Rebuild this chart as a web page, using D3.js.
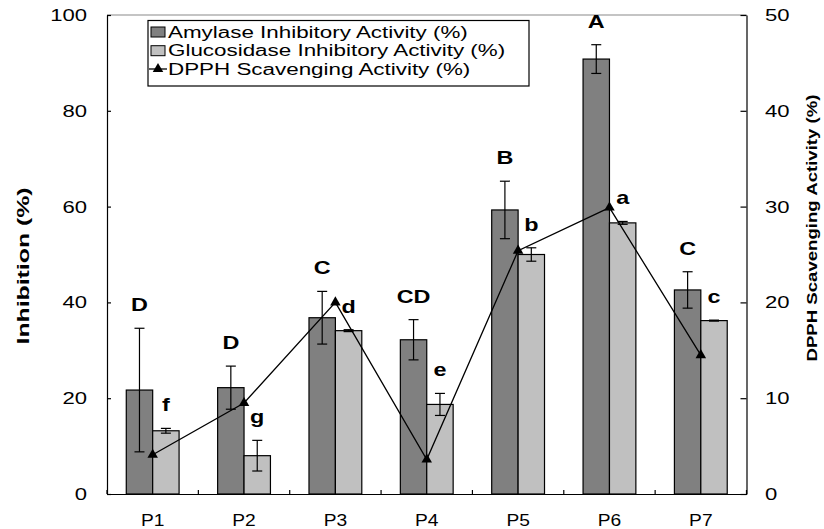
<!DOCTYPE html>
<html>
<head>
<meta charset="utf-8">
<style>
  body { margin: 0; background: #fff; }
  text { font-family: "Liberation Sans", Arial, sans-serif; fill: #000; }
</style>
</head>
<body>
<script src="https://cdnjs.cloudflare.com/ajax/libs/d3/7.8.5/d3.min.js"></script>
<svg id="chart" width="824" height="529"></svg>
<script>

  const categories = ["P1", "P2", "P3", "P4", "P5", "P6", "P7"];
  const amylase = [21.7, 22.2, 36.8, 32.2, 59.3, 90.8, 42.6];
  const amylaseErr = [12.9, 4.5, 5.5, 4.2, 6.0, 3.0, 3.8];
  const glucosidase = [13.2, 8.0, 34.1, 18.7, 50.0, 56.6, 36.2];
  const glucosidaseErr = [0.5, 3.2, 0.2, 2.3, 1.4, 0.3, 0.1];
  const dpph = [4.1, 9.5, 20.0, 3.6, 25.4, 29.9, 14.5];
  const amylaseLetters = ["D", "D", "C", "CD", "B", "A", "C"];
  const glucosidaseLetters = ["f", "g", "d", "e", "b", "a", "c"];
  const leftTicks = [0, 20, 40, 60, 80, 100];
  const rightTicks = [0, 10, 20, 30, 40, 50];
  const seriesNames = ["Amylase Inhibitory Activity (%)",
                       "Glucosidase Inhibitory Activity (%)",
                       "DPPH Scavenging Activity (%)"];

  const dark = "#808080", light = "#c0c0c0";

  const svg = d3.select("#chart");

  const x = d3.scaleBand().domain(categories).range([107, 746.5]);
  const xs = d3.scaleBand().domain(["amy", "glu"])
    .range([0, x.bandwidth()])
    .paddingOuter(0.73);
  const yL = d3.scaleLinear().domain([0, 100]).range([494, 15]);
  const yR = d3.scaleLinear().domain([0, 50]).range([494, 15]);

  // gray frame line at the top
  svg.append("line")
    .attr("x1", x.range()[0]).attr("x2", x.range()[1])
    .attr("y1", yL(100)).attr("y2", yL(100))
    .attr("stroke", "#8a8a8a").attr("stroke-width", 1.2);

  const rows = [];
  categories.forEach((c, i) => {
    rows.push({ c, key: "amy", v: amylase[i], e: amylaseErr[i], letter: amylaseLetters[i], fill: dark });
    rows.push({ c, key: "glu", v: glucosidase[i], e: glucosidaseErr[i], letter: glucosidaseLetters[i], fill: light });
  });
  const cx = d => x(d.c) + xs(d.key) + xs.bandwidth() / 2;

  svg.append("g")
    .selectAll("rect")
    .data(rows)
    .enter()
    .append("rect")
    .attr("x", d => x(d.c) + xs(d.key))
    .attr("width", xs.bandwidth())
    .attr("y", d => yL(d.v))
    .attr("height", d => yL(0) - yL(d.v))
    .attr("fill", d => d.fill)
    .attr("stroke", "#000")
    .attr("stroke-width", 1.2);

  // error bars
  const err = svg.append("g").attr("stroke", "#000").attr("stroke-width", 1.2);
  err.selectAll("line.v").data(rows).enter().append("line")
    .attr("x1", cx).attr("x2", cx)
    .attr("y1", d => yL(d.v - d.e)).attr("y2", d => yL(d.v + d.e));
  err.selectAll("line.t").data(rows).enter().append("line")
    .attr("x1", d => cx(d) - 5).attr("x2", d => cx(d) + 5)
    .attr("y1", d => yL(d.v + d.e)).attr("y2", d => yL(d.v + d.e));
  err.selectAll("line.b").data(rows).enter().append("line")
    .attr("x1", d => cx(d) - 5).attr("x2", d => cx(d) + 5)
    .attr("y1", d => yL(d.v - d.e)).attr("y2", d => yL(d.v - d.e));

  // significance letters
  svg.append("g")
    .selectAll("text")
    .data(rows)
    .enter()
    .append("text")
    .attr("text-anchor", "middle")
    .attr("font-size", 18)
    .attr("font-weight", "bold")
    .attr("transform", d => `translate(${cx(d)},${yL(d.v + d.e) - 17}) scale(1.3,1)`)
    .text(d => d.letter);

  // DPPH line
  const line = d3.line()
    .x((d, i) => x(categories[i]) + x.bandwidth() / 2)
    .y(d => yR(d));

  svg.append("path")
    .datum(dpph)
    .attr("d", line)
    .attr("fill", "none")
    .attr("stroke", "#000")
    .attr("stroke-width", 1.3);

  const tri = d3.symbol().type(d3.symbolTriangle).size(48);
  svg.append("g")
    .selectAll("path")
    .data(dpph)
    .enter()
    .append("path")
    .attr("d", tri)
    .attr("transform", (d, i) => `translate(${x(categories[i]) + x.bandwidth() / 2},${yR(d)})`)
    .attr("fill", "#000");

  // left axis
  const axL = svg.append("g")
    .attr("transform", "translate(107,0)")
    .call(d3.axisLeft(yL).tickValues(leftTicks).tickSizeInner(-4).tickSizeOuter(0));
  axL.selectAll("text")
    .attr("x", 0)
    .attr("transform", "translate(-20,0) scale(1.3,1)");

  // right axis
  const axR = svg.append("g")
    .attr("transform", "translate(746.5,0)")
    .call(d3.axisRight(yR).tickValues(rightTicks).tickSizeInner(-6).tickSizeOuter(0));
  axR.selectAll("text")
    .attr("x", 0)
    .attr("transform", "translate(18.5,0) scale(1.3,1)");

  // bottom axis
  const axB = svg.append("g")
    .attr("transform", "translate(0,494)")
    .call(d3.axisBottom(x).tickSize(0).tickSizeOuter(0));
  axB.selectAll("text")
    .attr("y", 0).attr("dy", 0)
    .attr("transform", "translate(0,32) scale(1.2,1)");

  const bounds = categories.map(c => x(c)).concat([x.range()[1]]);
  axB.selectAll("line.bound")
    .data(bounds)
    .enter()
    .append("line")
    .attr("class", "bound")
    .attr("x1", d => d).attr("x2", d => d)
    .attr("y1", 0).attr("y2", -4)
    .attr("stroke", "#000");

  [axL, axR, axB].forEach(a => {
    a.attr("font-family", null).attr("font-size", null);
    a.selectAll("text").attr("font-size", 17).attr("fill", "#000");
    a.selectAll("path, line").attr("stroke", "#000").attr("stroke-width", 1.2);
  });
  axB.selectAll("text").attr("font-size", 16);

  // axis titles
  svg.append("text")
    .attr("transform", "translate(29,266) rotate(-90)")
    .attr("text-anchor", "middle")
    .attr("font-size", 16)
    .attr("font-weight", "bold")
    .attr("textLength", 157)
    .attr("lengthAdjust", "spacingAndGlyphs")
    .text("Inhibition (%)");

  svg.append("text")
    .attr("transform", "translate(817,228) rotate(-90)")
    .attr("text-anchor", "middle")
    .attr("font-size", 14)
    .attr("font-weight", "bold")
    .attr("textLength", 267)
    .attr("lengthAdjust", "spacingAndGlyphs")
    .text("DPPH Scavenging Activity (%)");

  // legend
  const lg = svg.append("g");
  lg.append("rect")
    .attr("x", 148).attr("y", 20.5)
    .attr("width", 381).attr("height", 65.5)
    .attr("fill", "#fff")
    .attr("stroke", "#000")
    .attr("stroke-width", 1.2);

  const rowY = [32, 50.7, 69];
  const items = lg.selectAll("g.item")
    .data(seriesNames)
    .enter()
    .append("g")
    .attr("class", "item")
    .attr("transform", (d, i) => `translate(0,${rowY[i]})`);

  items.filter((d, i) => i < 2)
    .append("rect")
    .attr("x", 151).attr("y", -5)
    .attr("width", 14).attr("height", 10)
    .attr("fill", (d, i) => i === 0 ? dark : light)
    .attr("stroke", "#000");

  const lineItem = items.filter((d, i) => i === 2);
  lineItem.append("line")
    .attr("x1", 149).attr("x2", 167)
    .attr("y1", 0).attr("y2", 0)
    .attr("stroke", "#000").attr("stroke-width", 1.3);
  lineItem.append("path")
    .attr("d", tri)
    .attr("transform", "translate(158,0)")
    .attr("fill", "#000");

  items.append("text")
    .attr("font-size", 16)
    .attr("dy", "0.35em")
    .attr("transform", "translate(168,0) scale(1.4,1)")
    .text(d => d);

</script>
</body>
</html>
